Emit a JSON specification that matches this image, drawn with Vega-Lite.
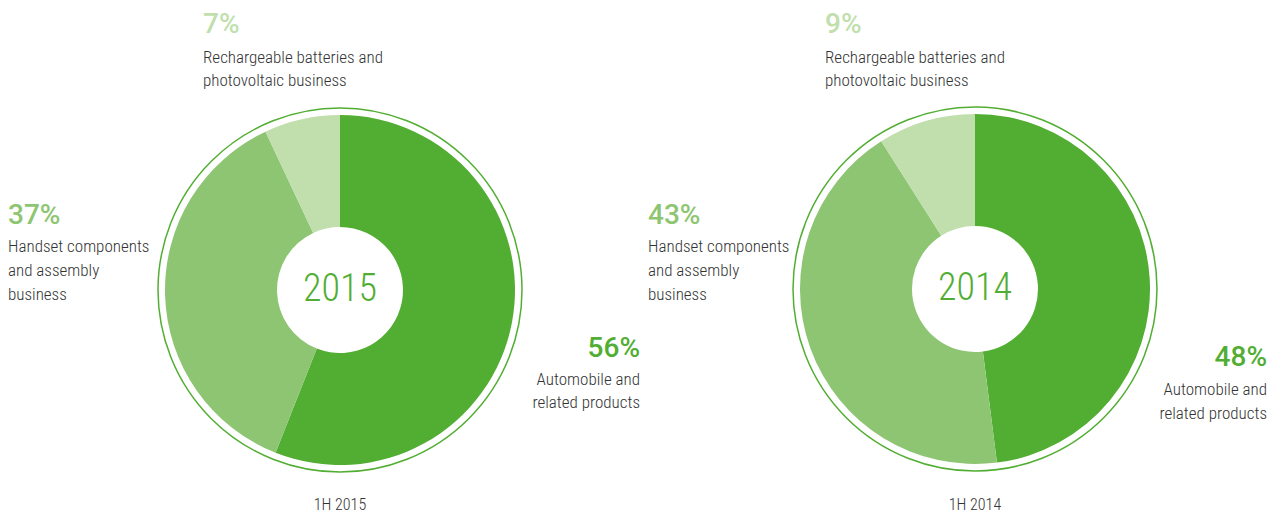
{
  "$schema": "https://vega.github.io/schema/vega-lite/v6.json",
  "width": 1274,
  "height": 514,
  "autosize": {"type": "fit", "contains": "padding"},
  "padding": 0,
  "background": "white",
  "config": {"view": {"stroke": null}, "text": {"font": "Liberation Sans Narrow, Roboto Condensed, Roboto"}},
  "datasets": {
    "shares": [
      {"year": "2015", "category": "Automobile and related products", "label": "Automobile and\nrelated products", "share": 0.56, "rank": 1},
      {"year": "2015", "category": "Handset components and assembly business", "label": "Handset components\nand assembly\nbusiness", "share": 0.37, "rank": 2},
      {"year": "2015", "category": "Rechargeable batteries and photovoltaic business", "label": "Rechargeable batteries and\nphotovoltaic business", "share": 0.07, "rank": 3},
      {"year": "2014", "category": "Automobile and related products", "label": "Automobile and\nrelated products", "share": 0.48, "rank": 1},
      {"year": "2014", "category": "Handset components and assembly business", "label": "Handset components\nand assembly\nbusiness", "share": 0.43, "rank": 2},
      {"year": "2014", "category": "Rechargeable batteries and photovoltaic business", "label": "Rechargeable batteries and\nphotovoltaic business", "share": 0.09, "rank": 3}
    ],
    "years": [
      {"year": "2015", "caption": "1H 2015"},
      {"year": "2014", "caption": "1H 2014"}
    ]
  },
  "data": {"name": "shares"},
  "layer": [
    {
      "data": {"name": "years"},
      "transform": [{"filter": "datum.year == '2015'"}],
      "mark": {"type": "point", "shape": "circle", "filled": false, "x": 340, "y": 290, "size": 132500, "stroke": "#52ae32", "strokeWidth": 1.5, "opacity": 1},
      "encoding": {}
    },
    {
      "data": {"name": "years"},
      "transform": [{"filter": "datum.year == '2014'"}],
      "mark": {"type": "point", "shape": "circle", "filled": false, "x": 975, "y": 289, "size": 132500, "stroke": "#52ae32", "strokeWidth": 1.5, "opacity": 1},
      "encoding": {}
    },
    {
      "transform": [{"filter": "datum.year == '2015'"}],
      "mark": {"type": "arc", "x": 340, "y": 290, "radius": 175, "innerRadius": 63},
      "encoding": {
        "theta": {"field": "share", "type": "quantitative", "stack": true},
        "order": {"field": "rank", "type": "quantitative"},
        "color": {"field": "category", "type": "nominal", "legend": null,
          "scale": {"domain": ["Automobile and related products", "Handset components and assembly business", "Rechargeable batteries and photovoltaic business"], "range": ["#52ae32", "#8dc572", "#c0dfac"]}}
      }
    },
    {
      "transform": [{"filter": "datum.year == '2014'"}],
      "mark": {"type": "arc", "x": 975, "y": 289, "radius": 175, "innerRadius": 63},
      "encoding": {
        "theta": {"field": "share", "type": "quantitative", "stack": true},
        "order": {"field": "rank", "type": "quantitative"},
        "color": {"field": "category", "type": "nominal", "legend": null,
          "scale": {"domain": ["Automobile and related products", "Handset components and assembly business", "Rechargeable batteries and photovoltaic business"], "range": ["#52ae32", "#8dc572", "#c0dfac"]}}
      }
    },
    {
      "data": {"name": "years"},
      "transform": [{"filter": "datum.year == '2015'"}],
      "mark": {"type": "text", "x": 340, "y": 290, "fontSize": 38, "fontWeight": 300, "color": "#52ae32", "align": "center", "baseline": "middle"},
      "encoding": {"text": {"field": "year"}}
    },
    {
      "data": {"name": "years"},
      "transform": [{"filter": "datum.year == '2014'"}],
      "mark": {"type": "text", "x": 975, "y": 289, "fontSize": 38, "fontWeight": 300, "color": "#52ae32", "align": "center", "baseline": "middle"},
      "encoding": {"text": {"field": "year"}}
    },
    {
      "data": {"name": "years"},
      "transform": [{"filter": "datum.year == '2015'"}],
      "mark": {"type": "text", "x": 340, "y": 505, "fontSize": 16, "fontWeight": 300, "color": "#333333", "align": "center", "baseline": "middle"},
      "encoding": {"text": {"field": "caption"}}
    },
    {
      "data": {"name": "years"},
      "transform": [{"filter": "datum.year == '2014'"}],
      "mark": {"type": "text", "x": 975, "y": 505, "fontSize": 16, "fontWeight": 300, "color": "#333333", "align": "center", "baseline": "middle"},
      "encoding": {"text": {"field": "caption"}}
    },
    {
      "transform": [{"filter": "datum.year == '2015' && datum.rank == 3"}],
      "mark": {"type": "text", "x": 203, "y": 25, "font": "Roboto", "fontSize": 28, "fontWeight": 500, "color": "#c0dfac", "align": "left", "baseline": "middle"},
      "encoding": {"text": {"field": "share", "format": ".0%"}}
    },
    {
      "transform": [{"filter": "datum.year == '2015' && datum.rank == 3"}],
      "mark": {"type": "text", "x": 203, "y": 58, "fontSize": 17, "fontWeight": 300, "color": "#333333", "align": "left", "baseline": "middle", "lineBreak": "\n", "lineHeight": 23},
      "encoding": {"text": {"field": "label"}}
    },
    {
      "transform": [{"filter": "datum.year == '2015' && datum.rank == 2"}],
      "mark": {"type": "text", "x": 8, "y": 216, "font": "Roboto", "fontSize": 28, "fontWeight": 500, "color": "#8dc572", "align": "left", "baseline": "middle"},
      "encoding": {"text": {"field": "share", "format": ".0%"}}
    },
    {
      "transform": [{"filter": "datum.year == '2015' && datum.rank == 2"}],
      "mark": {"type": "text", "x": 8, "y": 247, "fontSize": 17, "fontWeight": 300, "color": "#333333", "align": "left", "baseline": "middle", "lineBreak": "\n", "lineHeight": 24},
      "encoding": {"text": {"field": "label"}}
    },
    {
      "transform": [{"filter": "datum.year == '2015' && datum.rank == 1"}],
      "mark": {"type": "text", "x": 640, "y": 349, "font": "Roboto", "fontSize": 28, "fontWeight": 500, "color": "#52ae32", "align": "right", "baseline": "middle"},
      "encoding": {"text": {"field": "share", "format": ".0%"}}
    },
    {
      "transform": [{"filter": "datum.year == '2015' && datum.rank == 1"}],
      "mark": {"type": "text", "x": 640, "y": 380, "fontSize": 17, "fontWeight": 300, "color": "#333333", "align": "right", "baseline": "middle", "lineBreak": "\n", "lineHeight": 23},
      "encoding": {"text": {"field": "label"}}
    },
    {
      "transform": [{"filter": "datum.year == '2014' && datum.rank == 3"}],
      "mark": {"type": "text", "x": 825, "y": 25, "font": "Roboto", "fontSize": 28, "fontWeight": 500, "color": "#c0dfac", "align": "left", "baseline": "middle"},
      "encoding": {"text": {"field": "share", "format": ".0%"}}
    },
    {
      "transform": [{"filter": "datum.year == '2014' && datum.rank == 3"}],
      "mark": {"type": "text", "x": 825, "y": 58, "fontSize": 17, "fontWeight": 300, "color": "#333333", "align": "left", "baseline": "middle", "lineBreak": "\n", "lineHeight": 23},
      "encoding": {"text": {"field": "label"}}
    },
    {
      "transform": [{"filter": "datum.year == '2014' && datum.rank == 2"}],
      "mark": {"type": "text", "x": 648, "y": 216, "font": "Roboto", "fontSize": 28, "fontWeight": 500, "color": "#8dc572", "align": "left", "baseline": "middle"},
      "encoding": {"text": {"field": "share", "format": ".0%"}}
    },
    {
      "transform": [{"filter": "datum.year == '2014' && datum.rank == 2"}],
      "mark": {"type": "text", "x": 648, "y": 247, "fontSize": 17, "fontWeight": 300, "color": "#333333", "align": "left", "baseline": "middle", "lineBreak": "\n", "lineHeight": 24},
      "encoding": {"text": {"field": "label"}}
    },
    {
      "transform": [{"filter": "datum.year == '2014' && datum.rank == 1"}],
      "mark": {"type": "text", "x": 1267, "y": 358, "font": "Roboto", "fontSize": 28, "fontWeight": 500, "color": "#52ae32", "align": "right", "baseline": "middle"},
      "encoding": {"text": {"field": "share", "format": ".0%"}}
    },
    {
      "transform": [{"filter": "datum.year == '2014' && datum.rank == 1"}],
      "mark": {"type": "text", "x": 1267, "y": 390, "fontSize": 17, "fontWeight": 300, "color": "#333333", "align": "right", "baseline": "middle", "lineBreak": "\n", "lineHeight": 24},
      "encoding": {"text": {"field": "label"}}
    }
  ]
}
